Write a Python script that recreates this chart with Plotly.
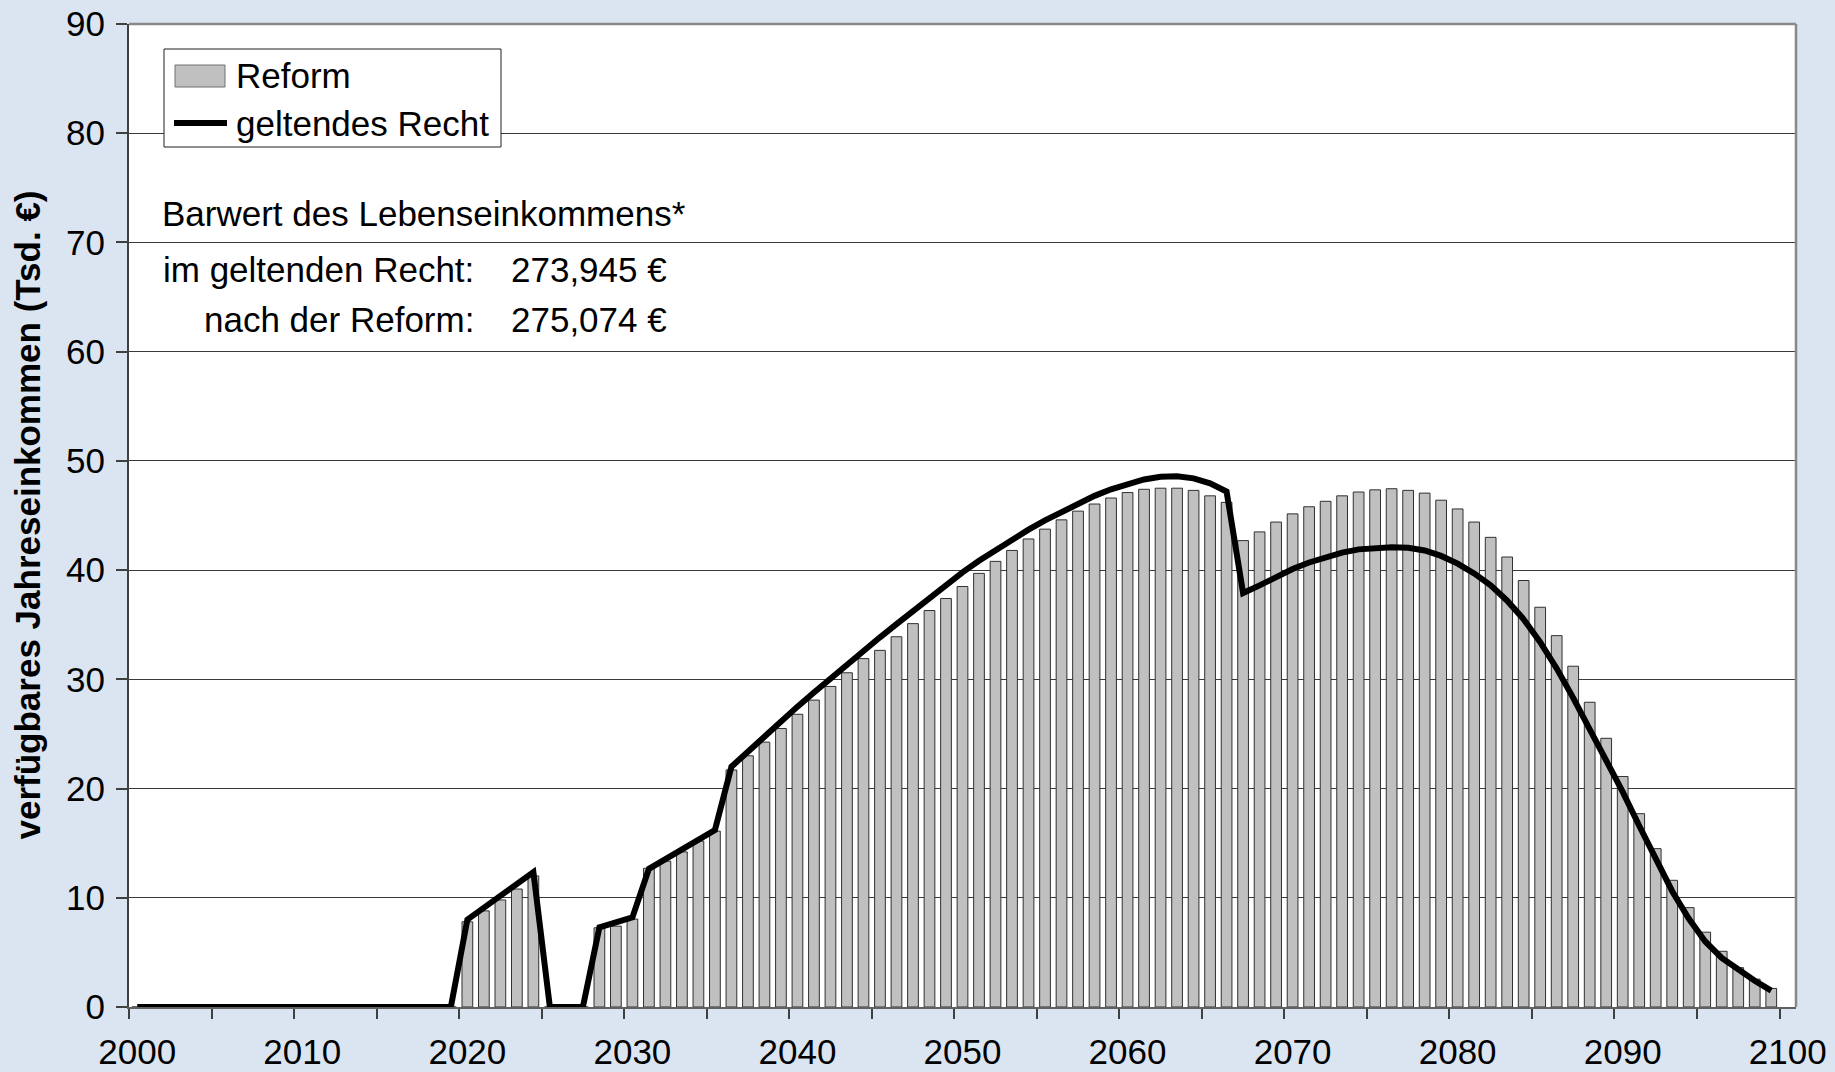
import plotly.graph_objects as go

# ---------------- data ----------------
years = list(range(2000, 2100))

reform = [
    0, 0, 0, 0, 0, 0, 0, 0, 0, 0,                      # 2000-2009
    0, 0, 0, 0, 0, 0, 0, 0, 0, 0,                      # 2010-2019
    7.8, 8.8, 9.8, 10.8, 12.0, 0, 0, 0, 7.25, 7.4,     # 2020-2029
    8.05, 12.7, 13.35, 14.2, 15.2, 16.1, 21.7, 23.0, 24.25, 25.5,   # 2030-2039
    26.8, 28.1, 29.35, 30.6, 31.9, 32.65, 33.9, 35.1, 36.3, 37.4,   # 2040-2049
    38.5, 39.7, 40.8, 41.8, 42.85, 43.75, 44.6, 45.4, 46.05, 46.6,  # 2050-2059
    47.1, 47.4, 47.5, 47.5, 47.3, 46.8, 46.2, 42.7, 43.5, 44.4,     # 2060-2069
    45.15, 45.8, 46.3, 46.8, 47.15, 47.35, 47.45, 47.3, 47.05, 46.4, # 2070-2079
    45.6, 44.4, 43.0, 41.2, 39.05, 36.6, 34.0, 31.2, 27.9, 24.6,    # 2080-2089
    21.1, 17.7, 14.5, 11.6, 9.1, 6.85, 5.1, 3.6, 2.55, 1.7,         # 2090-2099
]

geltendes_recht = [
    0, 0, 0, 0, 0, 0, 0, 0, 0, 0,                      # 2000-2009
    0, 0, 0, 0, 0, 0, 0, 0, 0, 0,                      # 2010-2019
    8.0, 9.1, 10.2, 11.25, 12.35, 0, 0, 0, 7.3, 7.7,   # 2020-2029
    8.2, 12.65, 13.5, 14.4, 15.3, 16.2, 22.0, 23.4, 24.8, 26.15,    # 2030-2039
    27.5, 28.8, 30.1, 31.35, 32.6, 33.85, 35.05, 36.25, 37.45, 38.65, # 2040-2049
    39.8, 40.85, 41.85, 42.8, 43.7, 44.55, 45.35, 46.1, 46.8, 47.4, # 2050-2059
    47.9, 48.3, 48.55, 48.6, 48.4, 47.95, 47.2, 37.9, 38.6, 39.4,   # 2060-2069
    40.1, 40.7, 41.2, 41.6, 41.9, 42.05, 42.1, 42.05, 41.8, 41.3,   # 2070-2079
    40.6, 39.7, 38.6, 37.2, 35.5, 33.4, 31.0, 28.3, 25.5, 22.6,     # 2080-2089
    19.7, 16.6, 13.5, 10.6, 8.1, 6.0, 4.5, 3.4, 2.4, 1.5,           # 2090-2099
]

xtick_vals = [2000, 2010, 2020, 2030, 2040, 2050, 2060, 2070, 2080, 2090, 2100]
xtick_text = ["2000", "2010", "2020", "2030", "2040", "2050", "2060", "2070", "2080", "2090", "2100"]
ytick_vals = [0, 10, 20, 30, 40, 50, 60, 70, 80, 90]

legend_labels = ["Reform", "geltendes Recht"]
y_title = "verfügbares Jahreseinkommen (Tsd. €)"
text_head = "Barwert des Lebenseinkommens*"
text_rows = [("im geltenden Recht:", "273,945 €"), ("nach der Reform:", "275,074 €")]

# ---------------- geometry ----------------
W, H = 1835, 1072
ML, MR, MT, MB = 129, 39, 24, 65
PW, PH = W - ML - MR, H - MT - MB
FONT = "Liberation Sans, Arial, sans-serif"
FS = 35
BG = "#DBE5F1"


def px(xp):
    return (xp - ML) / PW


def py(yp):
    return (H - MB - yp) / PH


fig = go.Figure()
fig.add_trace(go.Bar(
    x=years, y=reform, width=0.65, name=legend_labels[0],
    marker=dict(color="#C0C0C0", line=dict(color="#303030", width=1)),
    showlegend=False,
))
fig.add_trace(go.Scatter(
    x=years, y=geltendes_recht, mode="lines", name=legend_labels[1],
    line=dict(color="black", width=6), showlegend=False,
))

minor_ticks = [years[0] - 0.5 + 5 * k for k in range(21)]

fig.update_layout(
    width=W, height=H,
    margin=dict(l=ML, r=MR, t=MT, b=MB, pad=0),
    paper_bgcolor=BG, plot_bgcolor="white",
    font=dict(family=FONT, size=FS, color="black"),
    xaxis=dict(
        range=[1999.5, 2100.5], tickmode="array", tickvals=xtick_vals, ticktext=xtick_text,
        ticks="outside", ticklen=10, tickcolor="rgba(0,0,0,0)", ticklabelstandoff=3,
        showgrid=False, zeroline=False, showline=True, linecolor="#606060", linewidth=2,
        minor=dict(tickmode="array", tickvals=minor_ticks, ticks="outside", ticklen=10,
                   tickcolor="#404040", tickwidth=1.5, showgrid=False),
        tickfont=dict(size=FS), automargin=False,
    ),
    yaxis=dict(
        range=[0, 90], tickmode="array", tickvals=ytick_vals,
        ticks="outside", ticklen=11, tickcolor="#404040", tickwidth=1.5,
        showgrid=True, gridcolor="#3a3a3a", gridwidth=1,
        zeroline=False, showline=True, linecolor="#404040", linewidth=2,
        tickfont=dict(size=FS), automargin=False, ticklabelstandoff=4,
    ),
)

shapes = [
    # frame top and right
    dict(type="line", xref="paper", yref="paper", x0=0, x1=1, y0=1, y1=1,
         line=dict(color="#888888", width=2.5), layer="above"),
    dict(type="line", xref="paper", yref="paper", x0=1, x1=1, y0=0, y1=1,
         line=dict(color="#888888", width=2.5), layer="above"),
    # legend box
    dict(type="rect", xref="paper", yref="paper", x0=px(164), x1=px(501), y0=py(147), y1=py(49),
         line=dict(color="#202020", width=1), fillcolor="white", layer="above"),
    dict(type="rect", xref="paper", yref="paper", x0=px(175), x1=px(225), y0=py(87), y1=py(65),
         line=dict(color="#707070", width=1), fillcolor="#C0C0C0", layer="above"),
    dict(type="line", xref="paper", yref="paper", x0=px(174), x1=px(227), y0=py(123), y1=py(123),
         line=dict(color="black", width=6), layer="above"),
]

annotations = [
    dict(text=legend_labels[0], xref="paper", yref="paper", x=px(234), y=py(75),
         xanchor="left", yanchor="middle", showarrow=False),
    dict(text=legend_labels[1], xref="paper", yref="paper", x=px(234), y=py(123),
         xanchor="left", yanchor="middle", showarrow=False),
    dict(text=text_head, xref="paper", yref="paper", x=px(160), y=py(214),
         xanchor="left", yanchor="middle", showarrow=False),
    dict(text=text_rows[0][0], xref="paper", yref="paper", x=px(476), y=py(269),
         xanchor="right", yanchor="middle", showarrow=False),
    dict(text=text_rows[0][1], xref="paper", yref="paper", x=px(509), y=py(269),
         xanchor="left", yanchor="middle", showarrow=False),
    dict(text=text_rows[1][0], xref="paper", yref="paper", x=px(476), y=py(319),
         xanchor="right", yanchor="middle", showarrow=False),
    dict(text=text_rows[1][1], xref="paper", yref="paper", x=px(509), y=py(319),
         xanchor="left", yanchor="middle", showarrow=False),
    dict(text="<b>" + y_title + "</b>", xref="paper", yref="paper", x=px(27), y=0.5,
         xanchor="center", yanchor="middle", textangle=-90, showarrow=False),
]

fig.update_layout(shapes=shapes, annotations=annotations)

page_css = (
    "document.body.style.margin='0';"
    "document.body.style.padding='0';"
    "document.body.style.background='" + BG + "';"
    "document.documentElement.style.overflow='hidden';"
)
fig.write_html("out.html", post_script=page_css, config={"displayModeBar": False})
